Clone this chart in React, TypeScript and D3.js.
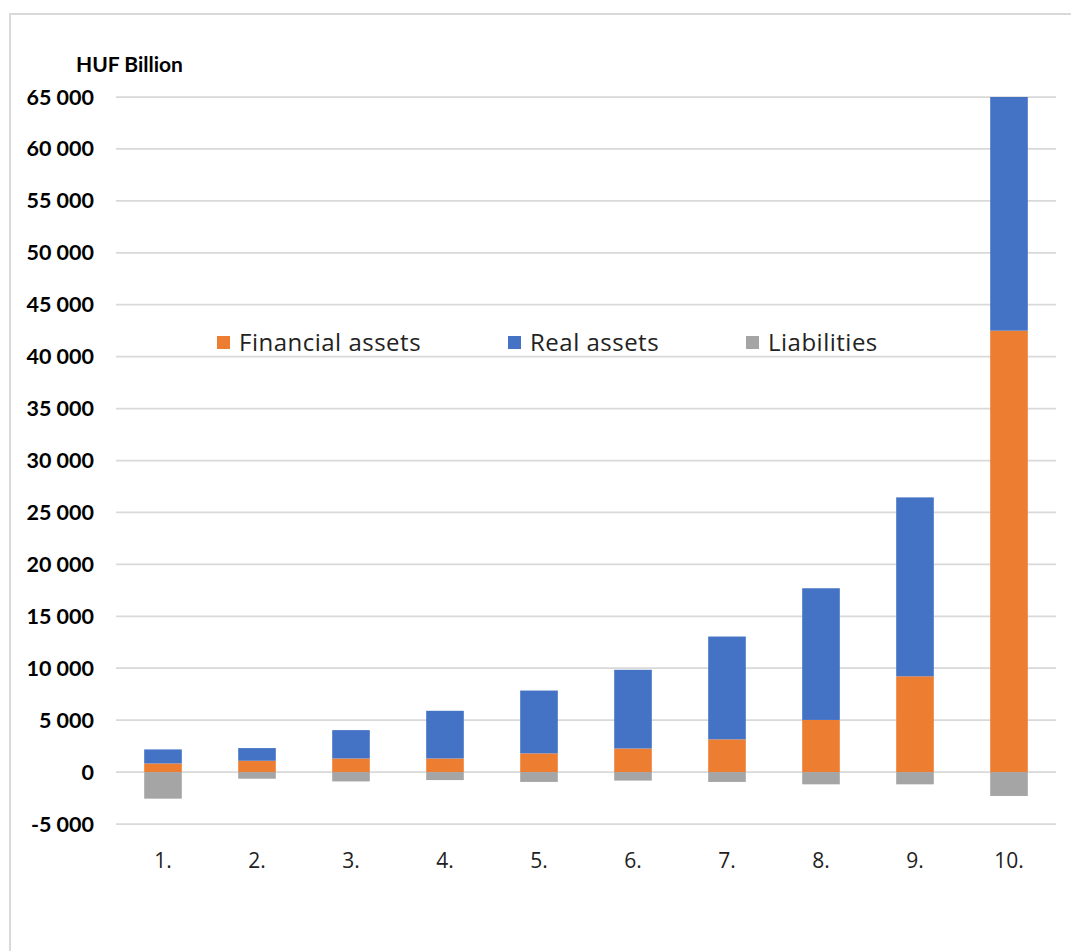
import React from "react";
import * as d3 from "d3";

const categories = ["1.", "2.", "3.", "4.", "5.", "6.", "7.", "8.", "9.", "10."];
const financialAssets = [830, 1090, 1310, 1310, 1800, 2270, 3150, 5020, 9220, 42500];
const realAssets = [1350, 1220, 2730, 4590, 6050, 7580, 9900, 12680, 17230, 22500];
const liabilities = [-2560, -640, -900, -770, -950, -820, -950, -1180, -1180, -2300];
const yTicks = [-5000, 0, 5000, 10000, 15000, 20000, 25000, 30000, 35000, 40000, 45000, 50000, 55000, 60000, 65000];
const legendItems = [
  { label: "Financial assets", color: "#ED7D31" },
  { label: "Real assets", color: "#4472C4" },
  { label: "Liabilities", color: "#A5A5A5" },
];
const unitLabel = "HUF Billion";

const W = 1071;
const H = 951;
const FONT = "Lato, 'Open Sans', sans-serif";
const FONT2 = "'Open Sans', Lato, sans-serif";

export default function App() {
  const x = d3
    .scaleBand<string>()
    .domain(categories)
    .range([116, 1056])
    .paddingInner(0.6)
    .paddingOuter(0.3);
  const y = d3.scaleLinear().domain([-5000, 65000]).range([824, 97]);

  const fmt = (v: number) => d3.format(",")(v).replace(/,/g, " ").replace("\u2212", "-");

  const bw = x.bandwidth();
  const legendX = [217, 508, 746];

  return (
    <svg
      width={W}
      height={H}
      style={{ position: "absolute", left: 0, top: 0, background: "#fff" }}
      fontFamily={FONT}
    >
      <rect x={0} y={0} width={W} height={H} fill="#fff" />
      <rect x={10} y={14} width={1200} height={1100} fill="none" stroke="#d9d9d9" strokeWidth={2} />

      {yTicks.map((t) => (
        <line
          key={"g" + t}
          x1={116}
          x2={1056}
          y1={y(t)}
          y2={y(t)}
          stroke="#d9d9d9"
          strokeWidth={1.75}
        />
      ))}

      {yTicks.map((t) => (
        <text
          key={"t" + t}
          x={94}
          y={y(t) + 7.5}
          textAnchor="end"
          fontSize={21.5}
          fontWeight="bold"
          fill="#000"
        >
          {fmt(t)}
        </text>
      ))}

      <text x={76} y={72} fontSize={21} fontWeight="bold" fill="#000">
        {unitLabel}
      </text>

      {categories.map((c, i) => {
        const x0 = x(c)!;
        const f = financialAssets[i];
        const r = realAssets[i];
        const l = liabilities[i];
        return (
          <g key={c}>
            <rect x={x0} y={y(f)} width={bw} height={y(0) - y(f)} fill="#ED7D31" />
            <rect x={x0} y={y(f + r)} width={bw} height={y(f) - y(f + r)} fill="#4472C4" />
            <rect x={x0} y={y(0)} width={bw} height={y(l) - y(0)} fill="#A5A5A5" />
          </g>
        );
      })}

      {categories.map((c) => (
        <text
          key={"c" + c}
          x={x(c)! + bw / 2}
          y={868}
          textAnchor="middle"
          fontSize={21}
          fontFamily={FONT2}
          fill="#222"
        >
          {c}
        </text>
      ))}

      {legendItems.map((it, i) => (
        <g key={it.label}>
          <rect x={legendX[i]} y={336} width={13} height={13} fill={it.color} />
          <text
            x={legendX[i] + 22}
            y={351}
            fontSize={24}
            letterSpacing={0.5}
            fontFamily={FONT2}
            fill="#222"
          >
            {it.label}
          </text>
        </g>
      ))}
    </svg>
  );
}
